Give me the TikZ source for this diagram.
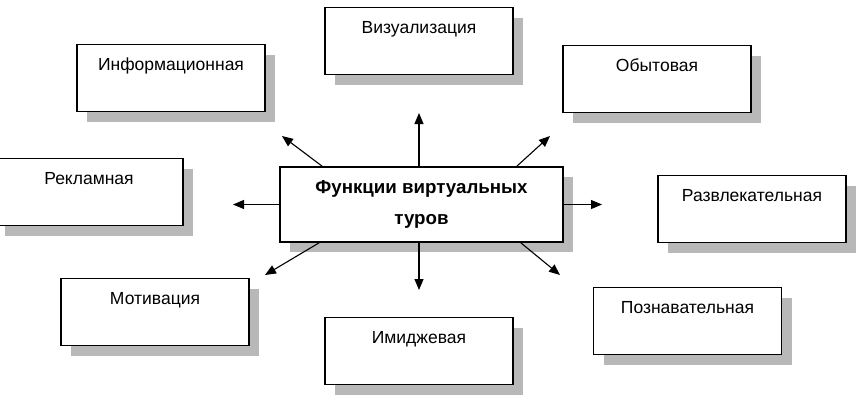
\documentclass[tikz,border=0pt]{standalone}
\usepackage{fontspec}
\setmainfont{Liberation Sans}
\usetikzlibrary{arrows.meta,shadows}

\definecolor{shadowgray}{RGB}{184,184,184}
\tikzstyle{func}=[draw,rectangle,line width=1.3pt,fill=white,anchor=north,
                  minimum width=188pt,inner ysep=0pt,
                  text height=26pt,text depth=41pt,
                  font=\fontsize{17.5}{20}\selectfont,
                  drop shadow={shadow xshift=10pt,shadow yshift=-10pt,
                               fill=shadowgray,opacity=1}]
\tikzstyle{mainfunc}=[draw,rectangle,line width=1.3pt,fill=white,
                      minimum width=283pt,minimum height=75pt,
                      align=center,font=\bfseries\fontsize{18.7}{31}\selectfont,
                      drop shadow={shadow xshift=10pt,shadow yshift=-10pt,
                                   fill=shadowgray,opacity=1}]
\tikzstyle{ray}=[line width=1.1pt,-{Triangle[length=11pt,width=9pt]}]

\begin{document}
\begin{tikzpicture}[x=1pt,y=-1pt]
  \useasboundingbox (0,0) rectangle (856,400);
  % Central box
  \node[mainfunc] (fvt) at (421.5,204.5) {Функции виртуальных\\туров};
  %
  % Place the function boxes
  \foreach \px/\py/\name/\txt in {171/44/inf/Информационная,
           419/7/viz/Визуализация, 657/45/byt/Обытовая,
           89/158/rek/Рекламная, 752/175/raz/Развлекательная,
           155/278/mot/Мотивация, 419/317/imi/Имиджевая,
           687.5/287/poz/Познавательная}
    \node[func] (\name) at (\px,\py) {\txt};
  %
  % Arrow tips
  \foreach \px/\py/\name in {282/136/tinf, 419/113/tviz, 550/136/tbyt,
           233/204.5/trek, 602/204.5/traz, 265/275/tmot, 419/290/timi,
           560/275/tpoz}
    \coordinate (\name) at (\px,\py);
  %
  % Arrows
  \draw[ray] ([xshift=43pt]fvt.north west) -- (tinf);
  \draw[ray] ([xshift=-2.5pt]fvt.north) -- (tviz);
  \draw[ray] ([xshift=-47pt]fvt.north east) -- (tbyt);
  \draw[ray] (fvt.west) -- (trek);
  \draw[ray] (fvt.east) -- (traz);
  \draw[ray] ([xshift=40pt]fvt.south west) -- (tmot);
  \draw[ray] ([xshift=-2.5pt]fvt.south) -- (timi);
  \draw[ray] ([xshift=-43pt]fvt.south east) -- (tpoz);
\end{tikzpicture}
\end{document}
